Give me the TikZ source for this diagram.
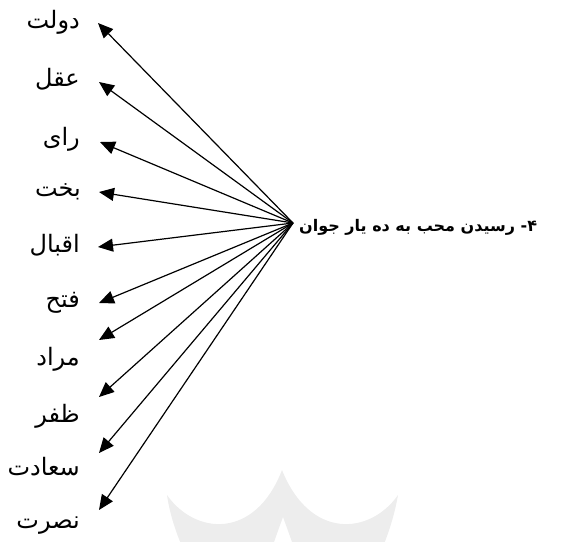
\documentclass[tikz,border=0pt]{standalone}
\usepackage{fontspec}
\usetikzlibrary{arrows.meta}
\newfontfamily\arabicfont[Script=Arabic]{DejaVu Sans}
\TeXXeTstate=1
\begin{document}
\begin{tikzpicture}[x=1pt,y=-1pt,
  lab/.style={font=\arabicfont\fontsize{24}{28}\selectfont, anchor=base east, inner sep=0pt},
  ttl/.style={font=\arabicfont\bfseries\fontsize{16}{19}\selectfont, anchor=base west, inner sep=0pt},
  conn/.style={line width=1.2pt, -{Triangle[length=15pt,width=13pt]}}]
\useasboundingbox (0,0) rectangle (575,541);
% faint watermark
\begin{scope}
\clip (0,0) rectangle (575,541);
\fill[black!7] (167,495) .. controls (195,535) and (255,540) .. (282,470)
  .. controls (310,540) and (370,535) .. (398,495)
  .. controls (392,530) and (378,560) .. (365,585) -- (305,585)
  .. controls (295,550) .. (283,517)
  .. controls (271,550) .. (262,585) -- (200,585)
  .. controls (188,560) and (172,530) .. (167,495) -- cycle;
\end{scope}
% labels
\node[lab] (l1) at (80,28) {\beginR دولت\endR};
\node[lab] (l2) at (80,86) {\beginR عقل\endR};
\node[lab] (l3) at (80,145) {\beginR رای\endR};
\node[lab] (l4) at (81,196) {\beginR بخت\endR};
\node[lab] (l5) at (80,252) {\beginR اقبال\endR};
\node[lab] (l6) at (80,307) {\beginR فتح\endR};
\node[lab] (l7) at (80,365) {\beginR مراد\endR};
\node[lab] (l8) at (80,422) {\beginR ظفر\endR};
\node[lab] (l9) at (80,475) {\beginR سعادت\endR};
\node[lab] (l10) at (80,528) {\beginR نصرت\endR};
% title
\node[ttl] (title) at (299,231) {\beginR ۴- رسیدن محب به ده یار جوان\endR};
\coordinate (hub) at (293,223);
% arrow tips
\coordinate (t1) at (98,23);
\coordinate (t2) at (99,82);
\coordinate (t3) at (100,142);
\coordinate (t4) at (99,192);
\coordinate (t5) at (98,247);
\coordinate (t6) at (99,303);
\coordinate (t7) at (99,340);
\coordinate (t8) at (99,397);
\coordinate (t9) at (99,453);
\coordinate (t10) at (99,510);
\foreach \i in {1,...,10} { \draw[conn] (hub) -- (t\i); }
\end{tikzpicture}
\end{document}
